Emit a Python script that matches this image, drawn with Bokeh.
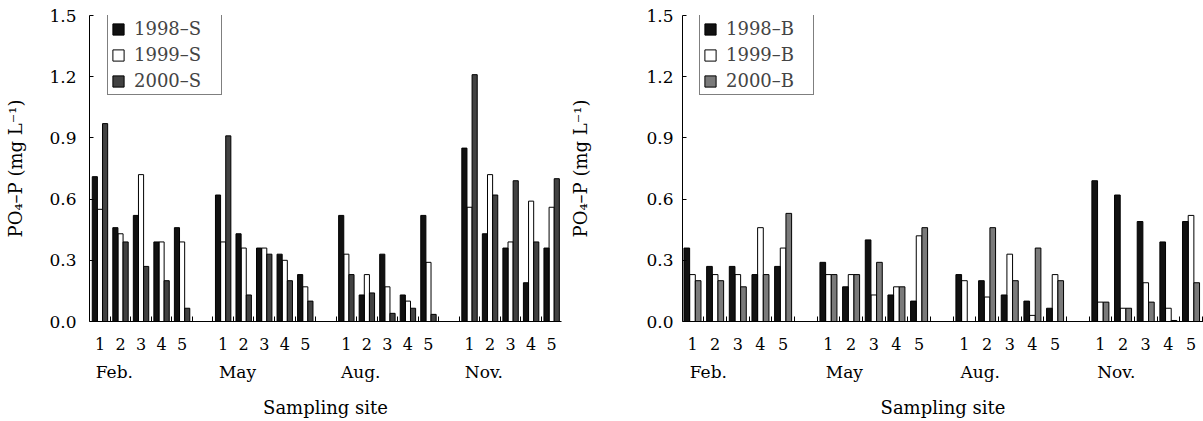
from bokeh.plotting import figure
from bokeh.models import Range1d, LinearAxis, FixedTicker, PrintfTickFormatter
from bokeh.layouts import row
from bokeh.embed import file_html
from bokeh.resources import INLINE

FONT = "DejaVu Serif"

months = ["Feb.", "May", "Aug.", "Nov."]
sites = ["1", "2", "3", "4", "5"]
y_ticks = [0.0, 0.3, 0.6, 0.9, 1.2, 1.5]

# Surface water (S), order: Feb 1-5, May 1-5, Aug 1-5, Nov 1-5
S_1998 = [0.71, 0.46, 0.52, 0.39, 0.46,
          0.62, 0.43, 0.36, 0.33, 0.23,
          0.52, 0.13, 0.33, 0.13, 0.52,
          0.85, 0.43, 0.36, 0.19, 0.36]
S_1999 = [0.55, 0.43, 0.72, 0.39, 0.39,
          0.39, 0.36, 0.36, 0.30, 0.17,
          0.33, 0.23, 0.17, 0.10, 0.29,
          0.56, 0.72, 0.39, 0.59, 0.56]
S_2000 = [0.97, 0.39, 0.27, 0.20, 0.065,
          0.91, 0.13, 0.33, 0.20, 0.10,
          0.23, 0.14, 0.04, 0.065, 0.035,
          1.21, 0.62, 0.69, 0.39, 0.70]

# Bottom water (B)
B_1998 = [0.36, 0.27, 0.27, 0.23, 0.27,
          0.29, 0.17, 0.40, 0.13, 0.10,
          0.23, 0.20, 0.13, 0.10, 0.065,
          0.69, 0.62, 0.49, 0.39, 0.49]
B_1999 = [0.23, 0.23, 0.23, 0.46, 0.36,
          0.23, 0.23, 0.13, 0.17, 0.42,
          0.20, 0.12, 0.33, 0.03, 0.23,
          0.095, 0.065, 0.19, 0.065, 0.52]
B_2000 = [0.20, 0.20, 0.17, 0.23, 0.53,
          0.23, 0.23, 0.29, 0.17, 0.46,
          0.0, 0.46, 0.20, 0.36, 0.20,
          0.095, 0.065, 0.095, 0.005, 0.19]

YLABEL = "PO\u2084\u2013P (mg L\u207b\u00b9)"


def make_panel(series, labels, colors, width, border_left, border_right,
               x_start, x_end, label_standoff, ylabel_standoff, legend_x):
    p = figure(width=width, height=420, output_backend="svg", toolbar_location=None,
               x_range=Range1d(x_start, x_end), y_range=Range1d(0, 1.5),
               x_axis_location=None, y_axis_location=None,
               min_border_left=border_left, min_border_right=border_right,
               min_border_top=15, min_border_bottom=96)
    p.outline_line_color = None
    p.grid.visible = False
    p.background_fill_color = "white"
    p.border_fill_color = "white"

    n_sites = len(sites)
    pitch = n_sites + 1
    pos = [m * pitch + s for m in range(len(months)) for s in range(n_sites)]
    offsets = [-0.25, 0.0, 0.25]
    draw_order = [1, 0, 2]
    for i in draw_order:
        p.vbar(x=[v + offsets[i] for v in pos], top=series[i], bottom=0, width=0.25,
               fill_color=colors[i], line_color="black", line_width=1,
               legend_label=labels[i])

    leg = p.legend[0]
    items = {it.label.value: it for it in leg.items}
    leg.items = [items[l] for l in labels]
    leg.location = (legend_x, 226)
    leg.border_line_color = "black"
    leg.border_line_width = 1
    leg.background_fill_alpha = 1.0
    leg.margin = 0
    leg.padding = 3
    leg.spacing = 5
    leg.glyph_width = 14
    leg.glyph_height = 14
    leg.label_height = 20
    leg.label_width = 84
    leg.label_standoff = 9
    leg.label_text_font = FONT
    leg.label_text_font_size = "18px"
    leg.label_text_baseline = "middle"

    yax = LinearAxis(ticker=FixedTicker(ticks=y_ticks),
                     formatter=PrintfTickFormatter(format="%.1f"),
                     major_tick_in=4, major_tick_out=0,
                     minor_tick_line_color=None,
                     major_label_standoff=label_standoff,
                     major_label_text_font=FONT, major_label_text_font_size="17px",
                     major_label_text_color="black",
                     axis_label=YLABEL, axis_label_standoff=ylabel_standoff,
                     axis_label_text_font=FONT, axis_label_text_font_size="18px",
                     axis_label_text_font_style="normal", axis_label_text_color="black",
                     axis_line_color="black", major_tick_line_color="black")
    p.add_layout(yax, "left")

    bounds = [k + 0.5 for k in range(len(months) * pitch - 1)]
    overrides = {float(v): sites[j % n_sites] for j, v in enumerate(pos)}
    xax = LinearAxis(ticker=FixedTicker(ticks=[float(v) for v in pos], minor_ticks=bounds),
                     major_label_overrides=overrides,
                     major_tick_line_color=None, major_tick_in=0, major_tick_out=0,
                     minor_tick_in=5, minor_tick_out=0, minor_tick_line_color="black",
                     major_label_standoff=16,
                     major_label_text_font=FONT, major_label_text_font_size="16px",
                     major_label_text_color="black",
                     axis_line_color="black")
    p.add_layout(xax, "below")

    mpos = [m * pitch + 0.7 for m in range(len(months))]
    mover = {float(v): months[m] for m, v in enumerate(mpos)}
    max_ = LinearAxis(ticker=FixedTicker(ticks=mpos, minor_ticks=[]),
                      major_label_overrides=mover,
                      axis_line_color=None, major_tick_line_color=None,
                      minor_tick_line_color=None,
                      major_tick_in=0, major_tick_out=0,
                      major_label_standoff=9,
                      major_label_text_font=FONT, major_label_text_font_size="17px",
                      major_label_text_color="black",
                      axis_label="Sampling site", axis_label_standoff=12,
                      axis_label_text_font=FONT, axis_label_text_font_size="18px",
                      axis_label_text_font_style="normal", axis_label_text_color="black")
    p.add_layout(max_, "below")
    return p


left = make_panel([S_1998, S_1999, S_2000], ["1998\u2013S", "1999\u2013S", "2000\u2013S"],
                  ["#111111", "white", "#424242"], width=566, border_left=89, border_right=5,
                  x_start=-0.51, x_end=22.48, label_standoff=13, ylabel_standoff=20, legend_x=18)
right = make_panel([B_1998, B_1999, B_2000], ["1998\u2013B", "1999\u2013B", "2000\u2013B"],
                   ["#111111", "white", "#7a7a7a"], width=637, border_left=116, border_right=0,
                   x_start=-0.44, x_end=22.55, label_standoff=9, ylabel_standoff=52, legend_x=17)

layout = row(left, right)
open("out.html", "w").write(file_html(layout, INLINE))
